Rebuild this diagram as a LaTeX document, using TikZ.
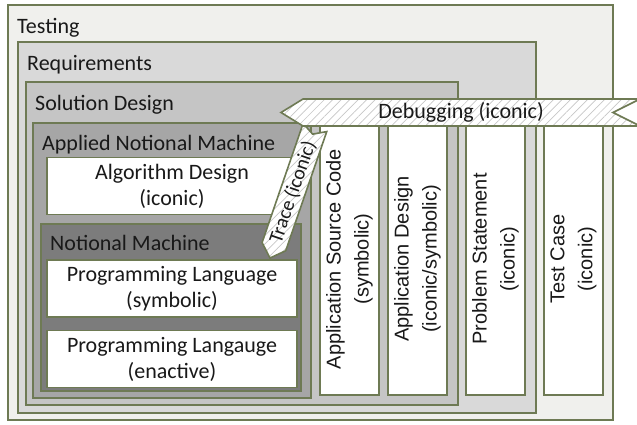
\documentclass[tikz,border=0pt]{standalone}
\usepackage{fontspec}
\setmainfont{Carlito}
\newfontfamily\colfont{Liberation Sans}
\usetikzlibrary{positioning,patterns.meta}
\definecolor{olivebrd}{RGB}{110,122,84}
\definecolor{testfill}{RGB}{240,240,237}
\definecolor{reqfill}{RGB}{217,217,217}
\definecolor{solfill}{RGB}{197,197,197}
\definecolor{anmfill}{RGB}{166,166,166}
\definecolor{nmfill}{RGB}{124,124,124}
\definecolor{txtcol}{RGB}{25,25,25}
\tikzset{
    %Define style for nested layers
    layer/.style={
           rectangle,
           draw=olivebrd, line width=1.6pt,
           anchor=south west,
           inner sep=0pt},
    %Define style for white boxes
    box/.style={
           rectangle,
           draw=olivebrd, line width=1.6pt,
           fill=white,
           minimum width=250pt,
           minimum height=57pt,
           align=center,
           text=txtcol,
           font=\fontsize{22}{26}\selectfont},
    %Define style for columns
    colbox/.style={
           rectangle,
           draw=olivebrd, line width=1.6pt,
           fill=white,
           rotate=90,
           minimum width=272pt,
           minimum height=59pt,
           align=center,
           text=txtcol,
           font=\colfont\fontsize{20}{28}\selectfont},
    % Define layer title style
    layertitle/.style={
           inner sep=0pt,
           text=txtcol,
           font=\fontsize{22}{26}\selectfont},
    % Define banner style
    banner/.style={
           draw=olivebrd, line width=1.6pt,
           preaction={fill=white},
           pattern={Lines[angle=45,distance=6pt,line width=0.7pt]},
           pattern color=black!22}
}
\begin{document}
\begin{tikzpicture}[x=1pt,y=1pt]
  \useasboundingbox (0,0) rectangle (637,424);
  \begin{scope}
  \node[layer, fill=testfill, minimum width=605pt, minimum height=415pt] (testing) at (7,3) {};
  \node[layer, fill=reqfill, minimum width=518pt, minimum height=371pt] (requirements) at (17,10) {};
  \node[layer, fill=solfill, minimum width=432pt, minimum height=323pt] (solution-design) at (25,18) {};
  \node[layer, fill=anmfill, minimum width=278pt, minimum height=275pt] (applied-nm) at (32,25) {};
  \node[layer, fill=nmfill, minimum width=260pt, minimum height=167pt] (notional-machine) at (40,32) {};

  \node[layertitle, below right=14pt and 10pt of testing.north west] (testing-lbl) {Testing};
  \node[layertitle, below right=14pt and 10pt of requirements.north west] (requirements-lbl) {Requirements};
  \node[layertitle, below right=14pt and 10pt of solution-design.north west] (solution-design-lbl) {Solution Design};
  \node[layertitle, below right=13pt and 10pt of applied-nm.north west] (applied-nm-lbl) {Applied Notional Machine};
  \node[layertitle, below right=12pt and 10pt of notional-machine.north west] (notional-machine-lbl) {Notional Machine};

  \node[box] (algo-design) at (172,238) {Algorithm Design\\(iconic)};
  \node[box] (pl-symbolic) at (172,135.5) {Programming Language\\(symbolic)};
  \node[box, below=12pt of pl-symbolic] (pl-enactive) {Programming Langauge\\(enactive)};

  \node[colbox] (src-code) at (349.5,165) {Application Source Code\\(symbolic)};
  \node[colbox] (app-design) at (417.5,165) {Application Design\\(iconic/symbolic)};
  \node[colbox] (problem-stmt) at (495.5,165) {Problem Statement\\(iconic)};
  \node[colbox] (test-case) at (573.5,165) {Test Case\\(iconic)};

  % Trace banner
  \begin{scope}[shift={(270,166)}, rotate=71]
    \draw[banner] (0,0) -- (12,12.5) -- (138,12.5) -- (131,0) -- (138,-12.5) -- (12,-12.5) -- cycle;
    \node[layertitle, font=\fontsize{20}{24}\selectfont, transform shape] (trace-lbl) at (70,0) {Trace (iconic)};
  \end{scope}

  % Debugging banner
  \draw[banner] (303,325) -- (640,325) -- (613,311.5) -- (640,298) -- (303,298) -- (281,311.5) -- cycle;
  \node[layertitle] (debug-lbl) at (461,312) {Debugging (iconic)};
  \end{scope}
\end{tikzpicture}
\end{document}
